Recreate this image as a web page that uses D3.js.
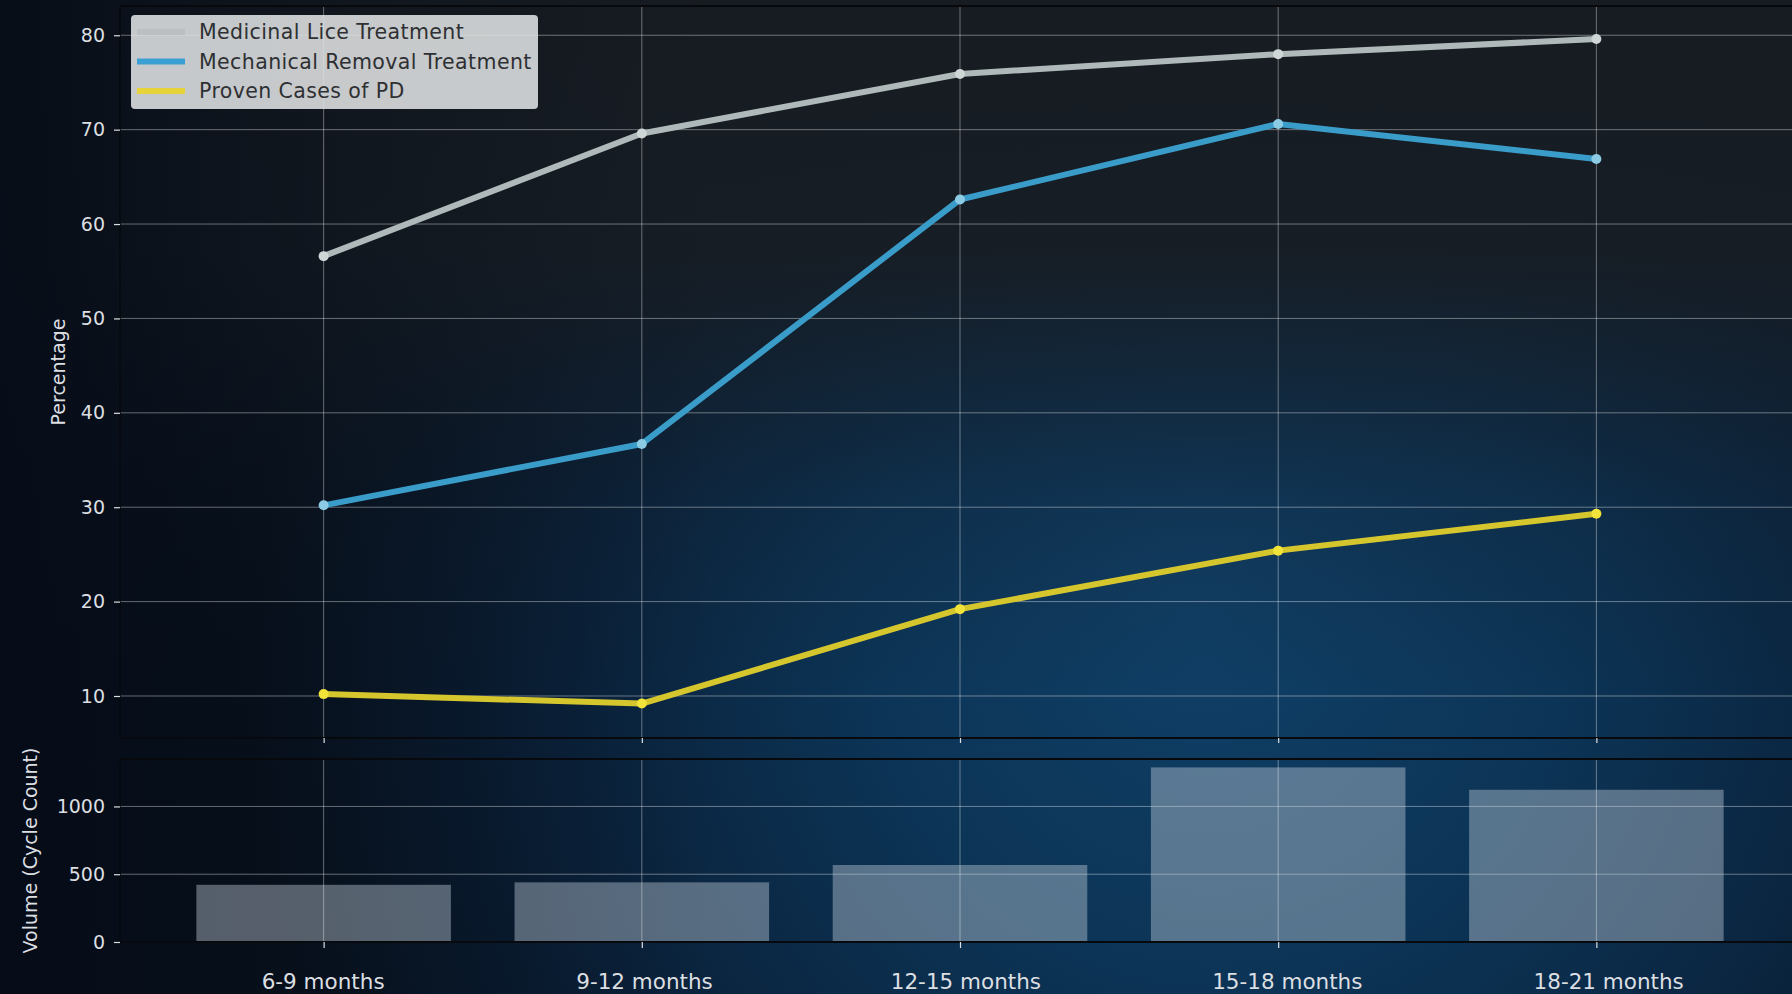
<!DOCTYPE html>
<html><head><meta charset="utf-8">
<script src="https://cdn.jsdelivr.net/npm/d3@7"></script>
<style>html,body{margin:0;padding:0;background:#0a1420;overflow:hidden}svg{display:block}text{font-family:"DejaVu Sans",sans-serif}</style>
</head><body><svg id="c" width="1792" height="994"></svg>
<script>
const categories = ["6-9 months","9-12 months","12-15 months","15-18 months","18-21 months"];
const medicinal = [56.6, 69.6, 75.9, 78.0, 79.6];
const mechanical = [30.2, 36.7, 62.6, 70.6, 66.9];
const provenPD = [10.2, 9.2, 19.2, 25.4, 29.3];
const volume = [422, 440, 568, 1288, 1123];
const pctTicks = [10,20,30,40,50,60,70,80];
const volTicks = [0,500,1000];
const seriesNames = ["Medicinal Lice Treatment","Mechanical Removal Treatment","Proven Cases of PD"];

const W=1792,H=994;
const svg=d3.select("#c");
const defs=svg.append("defs");
const rg=defs.append("radialGradient").attr("id","bg1").attr("gradientUnits","userSpaceOnUse")
  .attr("cx",1250).attr("cy",680).attr("r",1000).attr("fx",1200).attr("fy",600);
rg.append("stop").attr("offset",0).attr("stop-color","#104068");
rg.append("stop").attr("offset",0.35).attr("stop-color","#0c3456");
rg.append("stop").attr("offset",0.7).attr("stop-color","#0a2038");
rg.append("stop").attr("offset",1).attr("stop-color","#08121e");
const lg=defs.append("linearGradient").attr("id","bg2").attr("x1",0).attr("y1",0).attr("x2",0).attr("y2",1);
lg.append("stop").attr("offset",0).attr("stop-color","#171c22").attr("stop-opacity",1);
lg.append("stop").attr("offset",0.25).attr("stop-color","#171d24").attr("stop-opacity",0.97);
lg.append("stop").attr("offset",0.5).attr("stop-color","#141c26").attr("stop-opacity",0.25);
lg.append("stop").attr("offset",0.7).attr("stop-color","#141c26").attr("stop-opacity",0);
const lg2=defs.append("linearGradient").attr("id","bg3").attr("x1",0).attr("y1",0).attr("x2",1).attr("y2",0);
lg2.append("stop").attr("offset",0).attr("stop-color","#050b16").attr("stop-opacity",0.85);
lg2.append("stop").attr("offset",0.2).attr("stop-color","#050b16").attr("stop-opacity",0.3);
lg2.append("stop").attr("offset",0.4).attr("stop-color","#050b16").attr("stop-opacity",0);
svg.append("rect").attr("width",W).attr("height",H).attr("fill","url(#bg1)");
svg.append("rect").attr("width",W).attr("height",H).attr("fill","url(#bg2)");
svg.append("rect").attr("width",W).attr("height",H).attr("fill","url(#bg3)");

const L=120,R=1800;
const idx=d3.range(categories.length);
const x=d3.scaleLinear().domain([-0.64,4.64]).range([L,R]);
const yP=d3.scaleLinear().domain([5.55,83.1]).range([738,6]);
const yV=d3.scaleLinear().domain([0,1350]).range([942,759]);

const grid="rgba(255,255,255,0.38)";
const gMain=svg.append("g");
gMain.selectAll("line.h").data(pctTicks).join("line").attr("x1",L).attr("x2",R)
  .attr("y1",d=>yP(d)).attr("y2",d=>yP(d)).attr("stroke",grid).attr("stroke-width",1);
gMain.selectAll("line.v").data(idx).join("line").attr("y1",6).attr("y2",738)
  .attr("x1",d=>x(d)).attr("x2",d=>x(d)).attr("stroke",grid).attr("stroke-width",1);
const gVol=svg.append("g");
gVol.selectAll("line.h").data(volTicks).join("line").attr("x1",L).attr("x2",R)
  .attr("y1",d=>yV(d)).attr("y2",d=>yV(d)).attr("stroke",grid).attr("stroke-width",1);
const bw=x(0.4)-x(-0.4);
gVol.selectAll("rect").data(volume).join("rect")
  .attr("x",(d,i)=>x(i)-bw/2).attr("width",bw).attr("y",d=>yV(d)).attr("height",d=>yV(0)-yV(d))
  .attr("fill","#c4d0dc").attr("fill-opacity",0.42);
gVol.selectAll("line.v").data(idx).join("line").attr("y1",759).attr("y2",942)
  .attr("x1",d=>x(d)).attr("x2",d=>x(d)).attr("stroke",grid).attr("stroke-width",1);

const sp="#07090c";
svg.append("line").attr("x1",L).attr("x2",R).attr("y1",6).attr("y2",6).attr("stroke",sp).attr("stroke-width",2);
svg.append("line").attr("x1",L).attr("x2",R).attr("y1",738).attr("y2",738).attr("stroke",sp).attr("stroke-width",2);
svg.append("line").attr("x1",L).attr("x2",L).attr("y1",6).attr("y2",738).attr("stroke",sp).attr("stroke-width",1.5);
svg.append("line").attr("x1",L).attr("x2",R).attr("y1",759).attr("y2",759).attr("stroke",sp).attr("stroke-width",2);
svg.append("line").attr("x1",L).attr("x2",R).attr("y1",942).attr("y2",942).attr("stroke",sp).attr("stroke-width",2);
svg.append("line").attr("x1",L).attr("x2",L).attr("y1",759).attr("y2",942).attr("stroke",sp).attr("stroke-width",1.5);

const tc="#dcdfe2";
function styleAxis(g){
  g.select(".domain").remove();
  g.selectAll(".tick line").attr("stroke",tc).attr("stroke-width",1.2);
  g.selectAll(".tick text").attr("fill",tc).style("font-family","DejaVu Sans").style("font-size","19px");
}
svg.append("g").attr("transform",`translate(${L},0)`)
  .call(d3.axisLeft(yP).tickValues(pctTicks).tickSize(6).tickPadding(9)).call(styleAxis);
svg.append("g").attr("transform",`translate(${L},0)`)
  .call(d3.axisLeft(yV).tickValues(volTicks).tickFormat(d3.format("d")).tickSize(6).tickPadding(9)).call(styleAxis);
const xa=svg.append("g").attr("transform",`translate(0,942)`)
  .call(d3.axisBottom(x).tickValues(idx).tickFormat(i=>categories[i]).tickSize(6).tickPadding(26)).call(styleAxis);
xa.selectAll(".tick text").style("font-size","21.5px").attr("dx",(d,i)=>i*3.2-1);
svg.append("g").attr("transform",`translate(0,738)`)
  .call(d3.axisBottom(x).tickValues(idx).tickFormat("").tickSize(5)).call(styleAxis);

svg.append("text").attr("transform",`translate(65,${(6+738)/2}) rotate(-90)`).attr("text-anchor","middle")
  .attr("fill",tc).style("font-size","19px").text("Percentage");
svg.append("text").attr("transform",`translate(37,${(759+942)/2}) rotate(-90)`).attr("text-anchor","middle")
  .attr("fill",tc).style("font-size","19px").text("Volume (Cycle Count)");

const series=[
  {name:seriesNames[0],vals:medicinal,color:"#b0b9ba",mk:"#cfd6d6",lg:"#b9bfc3"},
  {name:seriesNames[1],vals:mechanical,color:"#3a9cc8",mk:"#8ccbe4",lg:"#3a9fd2"},
  {name:seriesNames[2],vals:provenPD,color:"#d6c62e",mk:"#f2e33a",lg:"#e6d33a"}
];
const line=d3.line().x((d,i)=>x(i)).y(d=>yP(d));
series.forEach(s=>{
  svg.append("path").attr("d",line(s.vals)).attr("fill","none").attr("stroke",s.color)
    .attr("stroke-width",6).attr("stroke-linejoin","round").attr("stroke-linecap","round");
  svg.selectAll(null).data(s.vals).join("circle").attr("cx",(d,i)=>x(i)).attr("cy",d=>yP(d))
    .attr("r",5).attr("fill",s.mk);
});

const lgG=svg.append("g");
lgG.append("rect").attr("x",131).attr("y",15).attr("width",407).attr("height",94).attr("rx",4)
  .attr("fill","#e0e2e4").attr("fill-opacity",0.88);
const ly=d3.scaleLinear().domain([0,2]).range([32,91]);
series.forEach((s,i)=>{
  lgG.append("line").attr("x1",137).attr("x2",185).attr("y1",ly(i)).attr("y2",ly(i))
    .attr("stroke",s.lg).attr("stroke-width",6);
  lgG.append("text").attr("x",199).attr("y",ly(i)).attr("dy","0.35em").attr("fill","#2e3033")
    .style("font-size","20.5px").style("letter-spacing","0.4px").text(s.name);
});
</script></body></html>
